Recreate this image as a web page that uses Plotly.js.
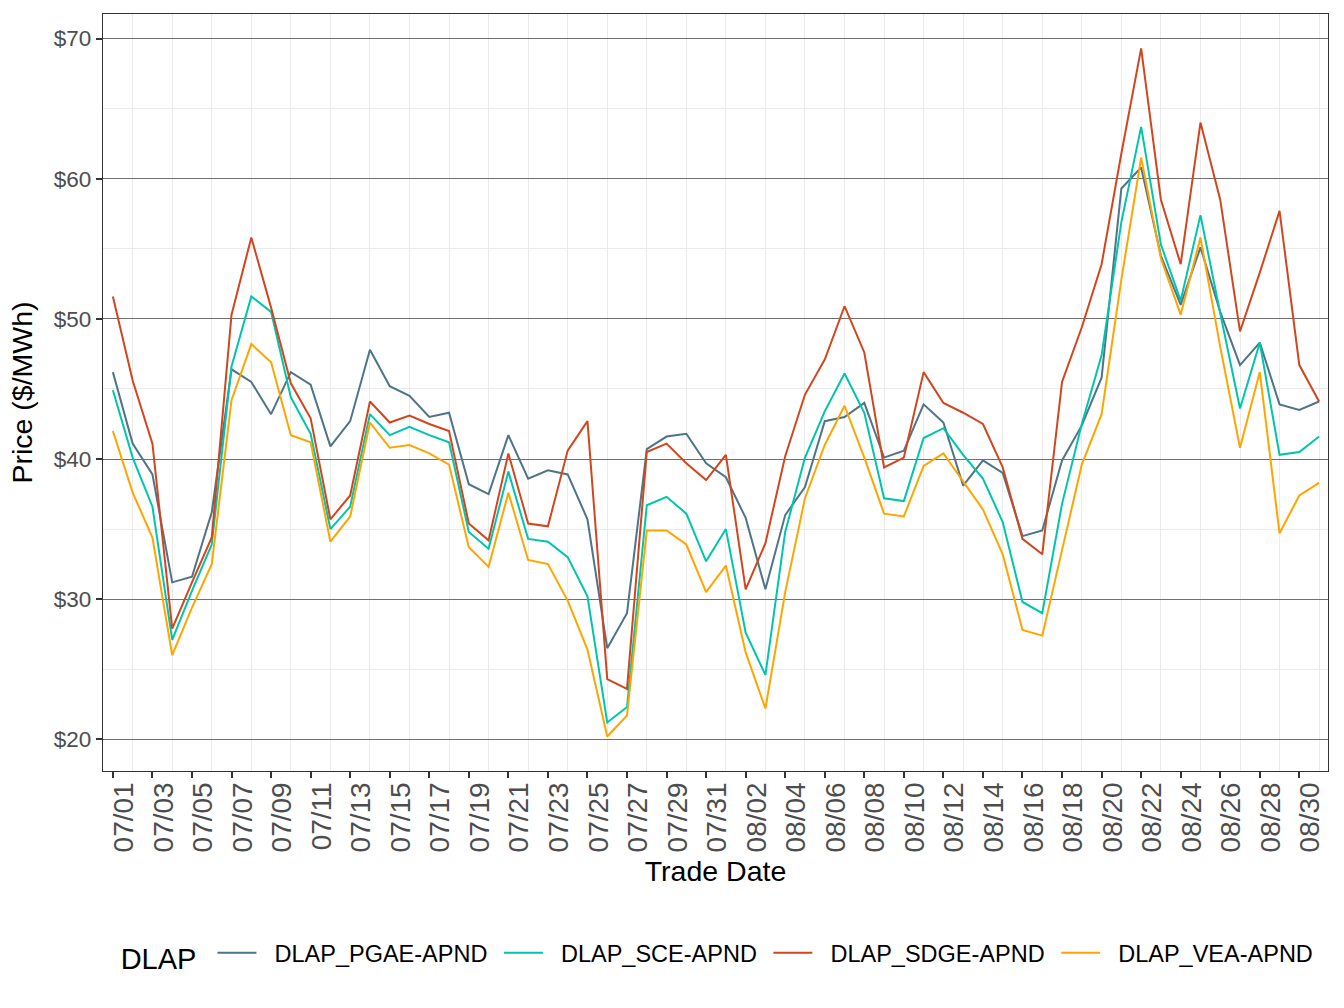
<!DOCTYPE html>
<html>
<head>
<meta charset="utf-8">
<script src="https://cdn.plot.ly/plotly-3.0.1.min.js"></script>
<style>
html,body{margin:0;padding:0;background:#fff;}
#chart{width:1344px;height:1008px;}
</style>
</head>
<body>
<div id="chart"></div>
<script>
// Trade dates: 2023-07-01 .. 2023-08-31 (one point per day)
const startDate = '2023-07-01';
const nDays = 62;
const dates = [];
for (let i = 0; i < nDays; i++) {
  const d = new Date(Date.UTC(2023, 6, 1 + i));
  dates.push(d.toISOString().slice(0, 10));
}

const seriesNames = ['DLAP_PGAE-APND', 'DLAP_SCE-APND', 'DLAP_SDGE-APND', 'DLAP_VEA-APND'];

const pgae = [46.2,41.1,38.9,31.2,31.6,36.2,46.4,45.5,43.2,46.2,45.3,40.9,42.7,47.8,45.2,44.5,43.0,43.3,38.2,37.5,
  41.7,38.6,39.2,38.9,35.7,26.5,29.0,40.7,41.6,41.8,39.7,38.7,35.8,30.7,36.0,38.0,42.7,43.0,44.0,40.1,
  40.6,43.9,42.6,38.1,39.9,39.0,34.5,34.9,39.9,42.4,45.8,59.3,60.8,54.5,51.0,55.1,50.5,46.7,48.3,43.9,
  43.5,44.1];

const sce = [44.9,40.1,36.6,27.1,30.6,33.9,46.6,51.6,50.5,44.4,41.8,35.0,36.6,43.2,41.7,42.3,41.7,41.2,34.8,33.6,
  39.1,34.3,34.1,33.0,30.2,21.2,22.3,36.7,37.3,36.1,32.7,35.0,27.6,24.6,34.8,40.1,43.4,46.1,43.3,37.2,
  37.0,41.5,42.2,40.3,38.6,35.5,29.8,29.0,36.8,42.5,47.4,56.9,63.7,55.3,51.3,57.4,50.4,43.6,48.3,40.3,
  40.5,41.6];

const sdge = [51.6,45.6,41.1,27.9,31.2,34.4,50.3,55.8,50.8,45.4,42.9,35.7,37.4,44.1,42.6,43.1,42.5,42.0,35.4,34.2,
  40.4,35.4,35.2,40.6,42.7,24.3,23.6,40.5,41.1,39.7,38.5,40.3,30.7,34.0,40.2,44.6,47.1,50.9,47.6,39.4,
  40.1,46.2,44.0,43.3,42.5,39.4,34.3,33.2,45.5,49.4,53.9,61.8,69.3,58.5,53.9,64.0,58.5,49.1,53.3,57.7,
  46.7,44.1];

const vea = [42.0,37.6,34.4,26.0,29.4,32.5,44.2,48.2,46.9,41.7,41.2,34.1,35.9,42.6,40.8,41.0,40.4,39.6,33.7,32.3,
  37.6,32.8,32.5,29.9,26.4,20.2,21.7,34.9,34.9,33.9,30.5,32.4,26.2,22.2,30.5,37.2,41.0,43.8,40.1,36.1,
  35.9,39.5,40.4,38.4,36.4,33.2,27.8,27.4,33.5,39.6,43.2,52.8,61.5,54.3,50.3,55.8,48.0,40.8,46.2,34.7,
  37.4,38.3];

const yTickVals = [20, 30, 40, 50, 60, 70];
const yTickText = ['$20', '$30', '$40', '$50', '$60', '$70'];

const colors = ['#4e7487', '#00c5ad', '#d2461f', '#ffa500'];
const allSeries = [pgae, sce, sdge, vea];

const FONT = '"Liberation Sans", Arial, Helvetica, sans-serif';
const DAY = 86400000;
const LEAD = '\u00a0\u00a0';
const TRAIL = '\u00a0';

const traces = allSeries.map((vals, k) => ({
  type: 'scatter',
  mode: 'lines',
  x: dates,
  y: vals,
  name: LEAD + seriesNames[k] + TRAIL,
  line: {color: colors[k], width: 2}
}));

const t0 = Date.UTC(2023, 6, 1);

const layout = {
  width: 1344,
  height: 1008,
  paper_bgcolor: '#ffffff',
  plot_bgcolor: '#ffffff',
  font: {family: FONT, color: '#000000'},
  margin: {l: 103, r: 16, t: 14, b: 237, pad: 0},
  showlegend: true,
  xaxis: {
    type: 'date',
    range: [t0 - 0.5 * DAY, t0 + 61.45 * DAY],
    tick0: startDate,
    dtick: 2 * DAY,
    tickformat: '%m/%d',
    tickangle: -90,
    ticks: 'outside',
    ticklen: 6,
    tickwidth: 1.5,
    tickcolor: '#333333',
    tickfont: {family: FONT, size: 28, color: '#4d4d4d'},
    ticklabelshift: 11,
    ticklabelstandoff: -7,
    showgrid: false,
    minor: {tick0: '2023-07-02', dtick: 2 * DAY, showgrid: true, gridcolor: '#ebebeb', gridwidth: 1.2, ticks: ''},
    showline: true,
    mirror: true,
    linecolor: '#333333',
    linewidth: 1.3,
    zeroline: false,
    automargin: false,
    title: {text: 'Trade Date', font: {family: FONT, size: 28.5, color: '#000000'}, standoff: 9}
  },
  yaxis: {
    range: [17.74, 71.75],
    tickvals: yTickVals,
    ticktext: yTickText,
    ticks: 'outside',
    ticklen: 6,
    tickwidth: 1.5,
    tickcolor: '#333333',
    tickfont: {family: FONT, size: 22.5, color: '#4d4d4d'},
    showgrid: true,
    gridcolor: '#707070',
    gridwidth: 1,
    minor: {dtick: 5, tick0: 0, showgrid: true, gridcolor: '#ebebeb', gridwidth: 1.2, ticks: ''},
    showline: true,
    mirror: true,
    linecolor: '#333333',
    linewidth: 1.3,
    zeroline: false,
    automargin: false,
    title: {text: 'Price ($/MWh)', font: {family: FONT, size: 28.5, color: '#000000'}, standoff: 12}
  },
  legend: {
    orientation: 'h',
    xref: 'paper',
    x: 0.505,
    xanchor: 'center',
    yref: 'container',
    y: 1 - 955 / 1008,
    yanchor: 'middle',
    font: {family: FONT, size: 23.5, color: '#000000'},
    title: {text: 'DLAP\u00a0', side: 'left', font: {family: FONT, size: 29, color: '#000000'}},
    itemwidth: 39,
    bgcolor: 'rgba(0,0,0,0)'
  }
};

Plotly.newPlot('chart', traces, layout, {displayModeBar: false, responsive: false});
</script>
</body>
</html>
